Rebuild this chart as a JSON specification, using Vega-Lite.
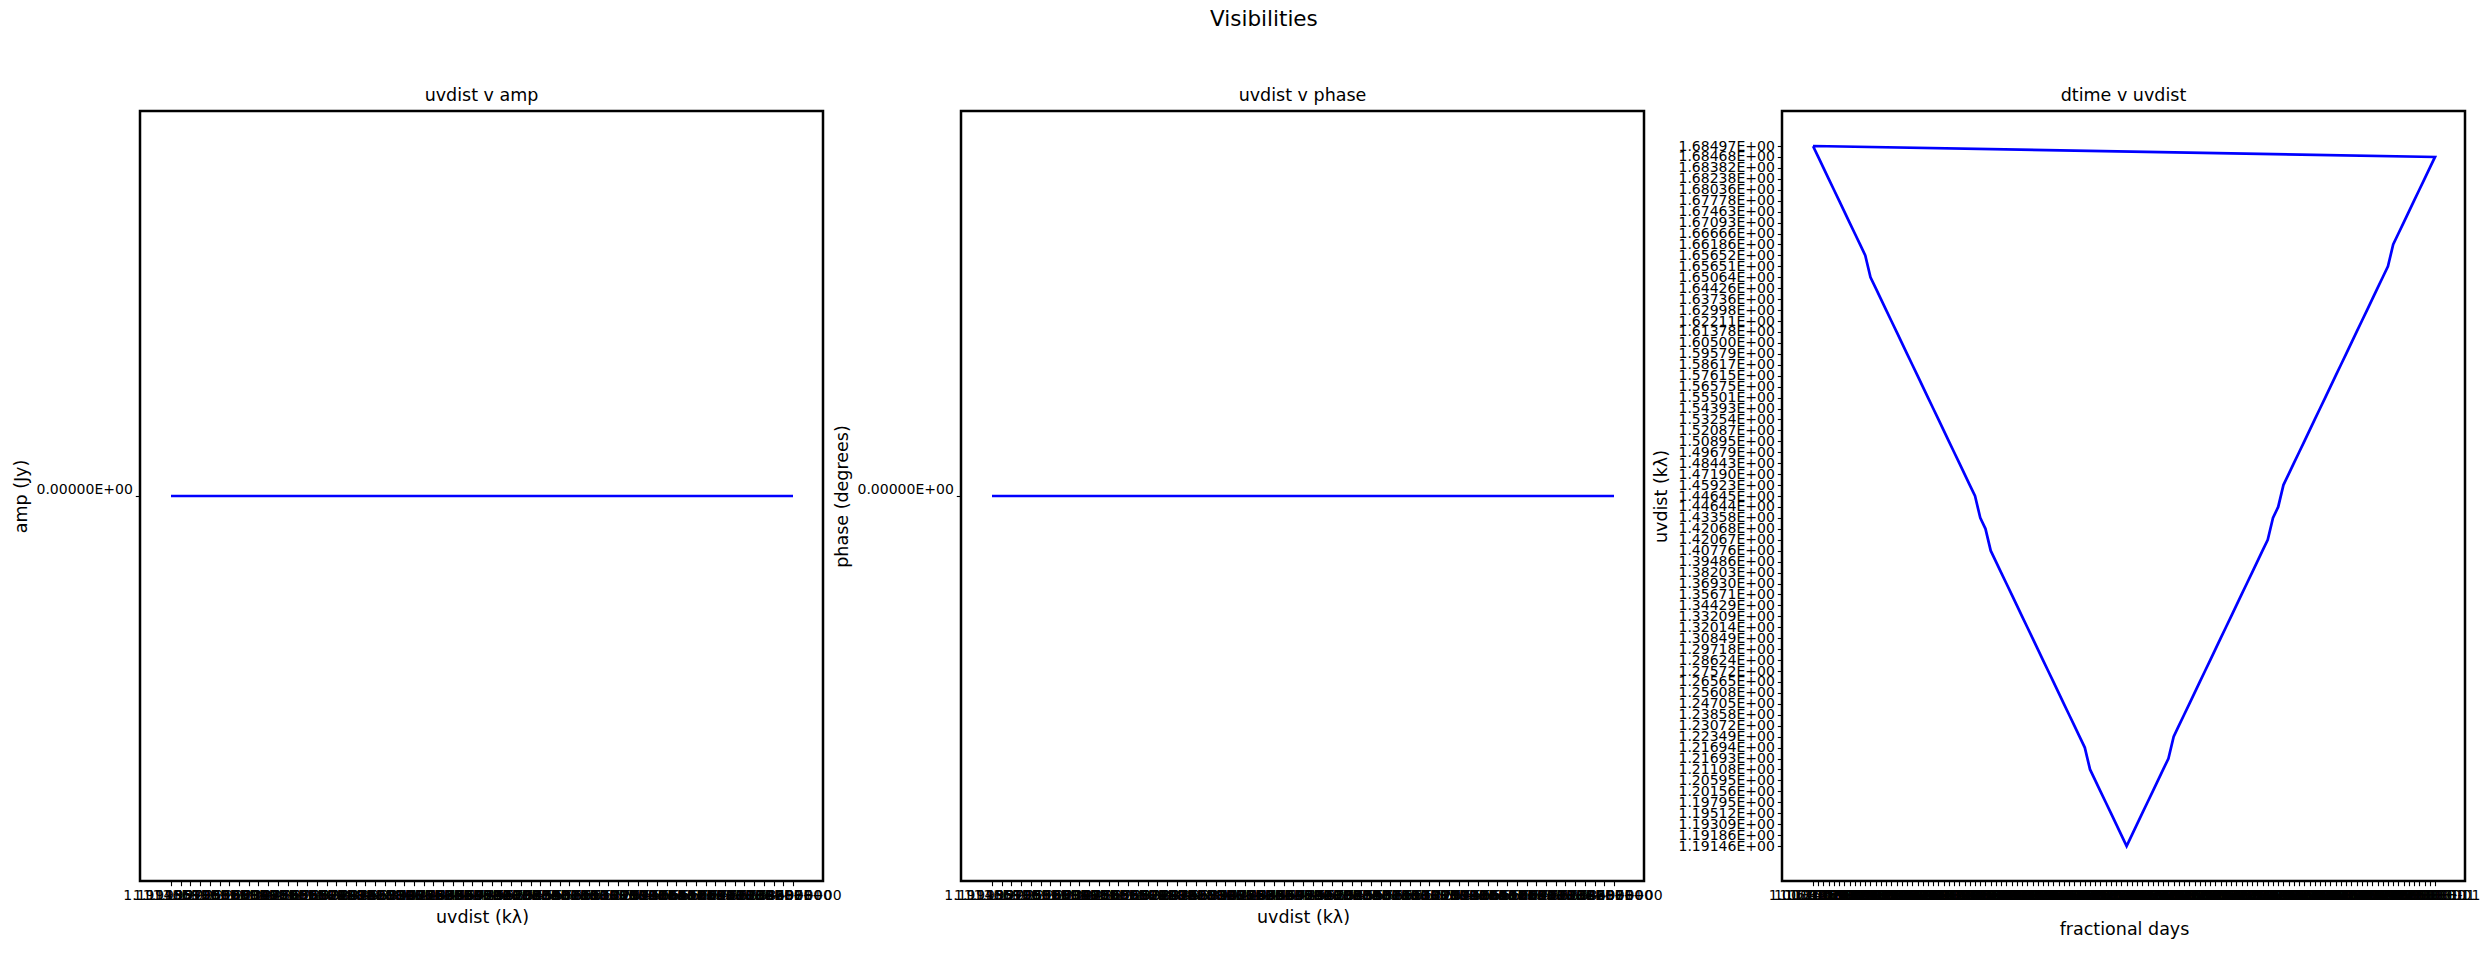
{
"$schema": "https://vega.github.io/schema/vega-lite/v6.json",
"background": "white",
"padding": {"left": 10, "top": 8, "right": 5, "bottom": 5},
"title": {"text": "Visibilities", "fontSize": 21.5, "font": "DejaVu Sans", "fontWeight": "normal", "color": "black", "anchor": "middle", "offset": 55, "dx": 18},
"data": {"values": [
{"s":0,"t":"1.00000E-01","u":"1.68497E+00","a":"0.00000E+00","p":"0.00000E+00"},
{"s":1,"t":"1.06700E-01","u":"1.68468E+00","a":"0.00000E+00","p":"0.00000E+00"},
{"s":2,"t":"1.13400E-01","u":"1.68382E+00","a":"0.00000E+00","p":"0.00000E+00"},
{"s":3,"t":"1.20100E-01","u":"1.68238E+00","a":"0.00000E+00","p":"0.00000E+00"},
{"s":4,"t":"1.26800E-01","u":"1.68036E+00","a":"0.00000E+00","p":"0.00000E+00"},
{"s":5,"t":"1.33500E-01","u":"1.67778E+00","a":"0.00000E+00","p":"0.00000E+00"},
{"s":6,"t":"1.40200E-01","u":"1.67463E+00","a":"0.00000E+00","p":"0.00000E+00"},
{"s":7,"t":"1.46900E-01","u":"1.67093E+00","a":"0.00000E+00","p":"0.00000E+00"},
{"s":8,"t":"1.53600E-01","u":"1.66666E+00","a":"0.00000E+00","p":"0.00000E+00"},
{"s":9,"t":"1.60300E-01","u":"1.66186E+00","a":"0.00000E+00","p":"0.00000E+00"},
{"s":10,"t":"1.67000E-01","u":"1.65652E+00","a":"0.00000E+00","p":"0.00000E+00"},
{"s":11,"t":"1.73700E-01","u":"1.65064E+00","a":"0.00000E+00","p":"0.00000E+00"},
{"s":12,"t":"1.80400E-01","u":"1.64426E+00","a":"0.00000E+00","p":"0.00000E+00"},
{"s":13,"t":"1.87100E-01","u":"1.63736E+00","a":"0.00000E+00","p":"0.00000E+00"},
{"s":14,"t":"1.93800E-01","u":"1.62998E+00","a":"0.00000E+00","p":"0.00000E+00"},
{"s":15,"t":"2.00500E-01","u":"1.62211E+00","a":"0.00000E+00","p":"0.00000E+00"},
{"s":16,"t":"2.07200E-01","u":"1.61378E+00","a":"0.00000E+00","p":"0.00000E+00"},
{"s":17,"t":"2.13900E-01","u":"1.60500E+00","a":"0.00000E+00","p":"0.00000E+00"},
{"s":18,"t":"2.20600E-01","u":"1.59579E+00","a":"0.00000E+00","p":"0.00000E+00"},
{"s":19,"t":"2.27300E-01","u":"1.58617E+00","a":"0.00000E+00","p":"0.00000E+00"},
{"s":20,"t":"2.34000E-01","u":"1.57615E+00","a":"0.00000E+00","p":"0.00000E+00"},
{"s":21,"t":"2.40700E-01","u":"1.56575E+00","a":"0.00000E+00","p":"0.00000E+00"},
{"s":22,"t":"2.47400E-01","u":"1.55501E+00","a":"0.00000E+00","p":"0.00000E+00"},
{"s":23,"t":"2.54100E-01","u":"1.54393E+00","a":"0.00000E+00","p":"0.00000E+00"},
{"s":24,"t":"2.60800E-01","u":"1.53254E+00","a":"0.00000E+00","p":"0.00000E+00"},
{"s":25,"t":"2.67500E-01","u":"1.52087E+00","a":"0.00000E+00","p":"0.00000E+00"},
{"s":26,"t":"2.74200E-01","u":"1.50895E+00","a":"0.00000E+00","p":"0.00000E+00"},
{"s":27,"t":"2.80900E-01","u":"1.49679E+00","a":"0.00000E+00","p":"0.00000E+00"},
{"s":28,"t":"2.87600E-01","u":"1.48443E+00","a":"0.00000E+00","p":"0.00000E+00"},
{"s":29,"t":"2.94300E-01","u":"1.47190E+00","a":"0.00000E+00","p":"0.00000E+00"},
{"s":30,"t":"3.01000E-01","u":"1.45923E+00","a":"0.00000E+00","p":"0.00000E+00"},
{"s":31,"t":"3.07700E-01","u":"1.44645E+00","a":"0.00000E+00","p":"0.00000E+00"},
{"s":32,"t":"3.14400E-01","u":"1.43358E+00","a":"0.00000E+00","p":"0.00000E+00"},
{"s":33,"t":"3.21100E-01","u":"1.42068E+00","a":"0.00000E+00","p":"0.00000E+00"},
{"s":34,"t":"3.27800E-01","u":"1.40776E+00","a":"0.00000E+00","p":"0.00000E+00"},
{"s":35,"t":"3.34500E-01","u":"1.39486E+00","a":"0.00000E+00","p":"0.00000E+00"},
{"s":36,"t":"3.41200E-01","u":"1.38203E+00","a":"0.00000E+00","p":"0.00000E+00"},
{"s":37,"t":"3.47900E-01","u":"1.36930E+00","a":"0.00000E+00","p":"0.00000E+00"},
{"s":38,"t":"3.54600E-01","u":"1.35671E+00","a":"0.00000E+00","p":"0.00000E+00"},
{"s":39,"t":"3.61300E-01","u":"1.34429E+00","a":"0.00000E+00","p":"0.00000E+00"},
{"s":40,"t":"3.68000E-01","u":"1.33209E+00","a":"0.00000E+00","p":"0.00000E+00"},
{"s":41,"t":"3.74700E-01","u":"1.32014E+00","a":"0.00000E+00","p":"0.00000E+00"},
{"s":42,"t":"3.81400E-01","u":"1.30849E+00","a":"0.00000E+00","p":"0.00000E+00"},
{"s":43,"t":"3.88100E-01","u":"1.29718E+00","a":"0.00000E+00","p":"0.00000E+00"},
{"s":44,"t":"3.94800E-01","u":"1.28624E+00","a":"0.00000E+00","p":"0.00000E+00"},
{"s":45,"t":"4.01500E-01","u":"1.27572E+00","a":"0.00000E+00","p":"0.00000E+00"},
{"s":46,"t":"4.08200E-01","u":"1.26565E+00","a":"0.00000E+00","p":"0.00000E+00"},
{"s":47,"t":"4.14900E-01","u":"1.25608E+00","a":"0.00000E+00","p":"0.00000E+00"},
{"s":48,"t":"4.21600E-01","u":"1.24705E+00","a":"0.00000E+00","p":"0.00000E+00"},
{"s":49,"t":"4.28300E-01","u":"1.23858E+00","a":"0.00000E+00","p":"0.00000E+00"},
{"s":50,"t":"4.35000E-01","u":"1.23072E+00","a":"0.00000E+00","p":"0.00000E+00"},
{"s":51,"t":"4.41700E-01","u":"1.22349E+00","a":"0.00000E+00","p":"0.00000E+00"},
{"s":52,"t":"4.48400E-01","u":"1.21694E+00","a":"0.00000E+00","p":"0.00000E+00"},
{"s":53,"t":"4.55100E-01","u":"1.21108E+00","a":"0.00000E+00","p":"0.00000E+00"},
{"s":54,"t":"4.61800E-01","u":"1.20595E+00","a":"0.00000E+00","p":"0.00000E+00"},
{"s":55,"t":"4.68500E-01","u":"1.20156E+00","a":"0.00000E+00","p":"0.00000E+00"},
{"s":56,"t":"4.75200E-01","u":"1.19795E+00","a":"0.00000E+00","p":"0.00000E+00"},
{"s":57,"t":"4.81900E-01","u":"1.19512E+00","a":"0.00000E+00","p":"0.00000E+00"},
{"s":58,"t":"4.88600E-01","u":"1.19309E+00","a":"0.00000E+00","p":"0.00000E+00"},
{"s":59,"t":"4.95300E-01","u":"1.19186E+00","a":"0.00000E+00","p":"0.00000E+00"},
{"s":60,"t":"5.02000E-01","u":"1.19146E+00","a":"0.00000E+00","p":"0.00000E+00"},
{"s":61,"t":"5.08700E-01","u":"1.19186E+00","a":"0.00000E+00","p":"0.00000E+00"},
{"s":62,"t":"5.15400E-01","u":"1.19309E+00","a":"0.00000E+00","p":"0.00000E+00"},
{"s":63,"t":"5.22100E-01","u":"1.19512E+00","a":"0.00000E+00","p":"0.00000E+00"},
{"s":64,"t":"5.28800E-01","u":"1.19795E+00","a":"0.00000E+00","p":"0.00000E+00"},
{"s":65,"t":"5.35500E-01","u":"1.20156E+00","a":"0.00000E+00","p":"0.00000E+00"},
{"s":66,"t":"5.42200E-01","u":"1.20595E+00","a":"0.00000E+00","p":"0.00000E+00"},
{"s":67,"t":"5.48900E-01","u":"1.21108E+00","a":"0.00000E+00","p":"0.00000E+00"},
{"s":68,"t":"5.55600E-01","u":"1.21693E+00","a":"0.00000E+00","p":"0.00000E+00"},
{"s":69,"t":"5.62300E-01","u":"1.22349E+00","a":"0.00000E+00","p":"0.00000E+00"},
{"s":70,"t":"5.69000E-01","u":"1.23072E+00","a":"0.00000E+00","p":"0.00000E+00"},
{"s":71,"t":"5.75700E-01","u":"1.23858E+00","a":"0.00000E+00","p":"0.00000E+00"},
{"s":72,"t":"5.82400E-01","u":"1.24705E+00","a":"0.00000E+00","p":"0.00000E+00"},
{"s":73,"t":"5.89100E-01","u":"1.25608E+00","a":"0.00000E+00","p":"0.00000E+00"},
{"s":74,"t":"5.95800E-01","u":"1.26565E+00","a":"0.00000E+00","p":"0.00000E+00"},
{"s":75,"t":"6.02500E-01","u":"1.27572E+00","a":"0.00000E+00","p":"0.00000E+00"},
{"s":76,"t":"6.09200E-01","u":"1.28624E+00","a":"0.00000E+00","p":"0.00000E+00"},
{"s":77,"t":"6.15900E-01","u":"1.29718E+00","a":"0.00000E+00","p":"0.00000E+00"},
{"s":78,"t":"6.22600E-01","u":"1.30849E+00","a":"0.00000E+00","p":"0.00000E+00"},
{"s":79,"t":"6.29300E-01","u":"1.32014E+00","a":"0.00000E+00","p":"0.00000E+00"},
{"s":80,"t":"6.36000E-01","u":"1.33209E+00","a":"0.00000E+00","p":"0.00000E+00"},
{"s":81,"t":"6.42700E-01","u":"1.34429E+00","a":"0.00000E+00","p":"0.00000E+00"},
{"s":82,"t":"6.49400E-01","u":"1.35671E+00","a":"0.00000E+00","p":"0.00000E+00"},
{"s":83,"t":"6.56100E-01","u":"1.36930E+00","a":"0.00000E+00","p":"0.00000E+00"},
{"s":84,"t":"6.62800E-01","u":"1.38203E+00","a":"0.00000E+00","p":"0.00000E+00"},
{"s":85,"t":"6.69500E-01","u":"1.39486E+00","a":"0.00000E+00","p":"0.00000E+00"},
{"s":86,"t":"6.76200E-01","u":"1.40776E+00","a":"0.00000E+00","p":"0.00000E+00"},
{"s":87,"t":"6.82900E-01","u":"1.42067E+00","a":"0.00000E+00","p":"0.00000E+00"},
{"s":88,"t":"6.89600E-01","u":"1.43358E+00","a":"0.00000E+00","p":"0.00000E+00"},
{"s":89,"t":"6.96300E-01","u":"1.44644E+00","a":"0.00000E+00","p":"0.00000E+00"},
{"s":90,"t":"7.03000E-01","u":"1.45923E+00","a":"0.00000E+00","p":"0.00000E+00"},
{"s":91,"t":"7.09700E-01","u":"1.47190E+00","a":"0.00000E+00","p":"0.00000E+00"},
{"s":92,"t":"7.16400E-01","u":"1.48443E+00","a":"0.00000E+00","p":"0.00000E+00"},
{"s":93,"t":"7.23100E-01","u":"1.49679E+00","a":"0.00000E+00","p":"0.00000E+00"},
{"s":94,"t":"7.29800E-01","u":"1.50895E+00","a":"0.00000E+00","p":"0.00000E+00"},
{"s":95,"t":"7.36500E-01","u":"1.52087E+00","a":"0.00000E+00","p":"0.00000E+00"},
{"s":96,"t":"7.43200E-01","u":"1.53254E+00","a":"0.00000E+00","p":"0.00000E+00"},
{"s":97,"t":"7.49900E-01","u":"1.54393E+00","a":"0.00000E+00","p":"0.00000E+00"},
{"s":98,"t":"7.56600E-01","u":"1.55501E+00","a":"0.00000E+00","p":"0.00000E+00"},
{"s":99,"t":"7.63300E-01","u":"1.56575E+00","a":"0.00000E+00","p":"0.00000E+00"},
{"s":100,"t":"7.70000E-01","u":"1.57615E+00","a":"0.00000E+00","p":"0.00000E+00"},
{"s":101,"t":"7.76700E-01","u":"1.58617E+00","a":"0.00000E+00","p":"0.00000E+00"},
{"s":102,"t":"7.83400E-01","u":"1.59579E+00","a":"0.00000E+00","p":"0.00000E+00"},
{"s":103,"t":"7.90100E-01","u":"1.60500E+00","a":"0.00000E+00","p":"0.00000E+00"},
{"s":104,"t":"7.96800E-01","u":"1.61378E+00","a":"0.00000E+00","p":"0.00000E+00"},
{"s":105,"t":"8.03500E-01","u":"1.62211E+00","a":"0.00000E+00","p":"0.00000E+00"},
{"s":106,"t":"8.10200E-01","u":"1.62998E+00","a":"0.00000E+00","p":"0.00000E+00"},
{"s":107,"t":"8.16900E-01","u":"1.63736E+00","a":"0.00000E+00","p":"0.00000E+00"},
{"s":108,"t":"8.23600E-01","u":"1.64426E+00","a":"0.00000E+00","p":"0.00000E+00"},
{"s":109,"t":"8.30300E-01","u":"1.65064E+00","a":"0.00000E+00","p":"0.00000E+00"},
{"s":110,"t":"8.37000E-01","u":"1.65651E+00","a":"0.00000E+00","p":"0.00000E+00"},
{"s":111,"t":"8.43700E-01","u":"1.66186E+00","a":"0.00000E+00","p":"0.00000E+00"},
{"s":112,"t":"8.50400E-01","u":"1.66666E+00","a":"0.00000E+00","p":"0.00000E+00"},
{"s":113,"t":"8.57100E-01","u":"1.67093E+00","a":"0.00000E+00","p":"0.00000E+00"},
{"s":114,"t":"8.63800E-01","u":"1.67463E+00","a":"0.00000E+00","p":"0.00000E+00"},
{"s":115,"t":"8.70500E-01","u":"1.67778E+00","a":"0.00000E+00","p":"0.00000E+00"},
{"s":116,"t":"8.77200E-01","u":"1.68036E+00","a":"0.00000E+00","p":"0.00000E+00"},
{"s":117,"t":"8.83900E-01","u":"1.68238E+00","a":"0.00000E+00","p":"0.00000E+00"},
{"s":118,"t":"8.90600E-01","u":"1.68382E+00","a":"0.00000E+00","p":"0.00000E+00"},
{"s":119,"t":"8.97300E-01","u":"1.68468E+00","a":"0.00000E+00","p":"0.00000E+00"},
{"s":120,"t":"1.00000E-01","u":"1.68497E+00","a":"0.00000E+00","p":"0.00000E+00"}
]},
"spacing": 138,
"bounds": "flush",
"hconcat": [
{
 "width": 683, "height": 770,
 "title": "uvdist v amp",
 "mark": {"type": "line", "color": "#0000ff", "strokeWidth": 2.7},
 "encoding": {
  "x": {"field": "u", "type": "nominal", "sort": "ascending", "scale": {"type": "point", "padding": 0, "range": [31, 653]}, "axis": {"title": "uvdist (kλ)", "labelAngle": 0, "titlePadding": 6}},
  "y": {"field": "a", "type": "nominal", "scale": {"type": "point"}, "axis": {"title": "amp (Jy)", "labelOffset": -7, "titlePadding": 6}},
  "order": {"field": "s", "type": "quantitative"}
 }
},
{
 "width": 683, "height": 770,
 "title": "uvdist v phase",
 "mark": {"type": "line", "color": "#0000ff", "strokeWidth": 2.7},
 "encoding": {
  "x": {"field": "u", "type": "nominal", "sort": "ascending", "scale": {"type": "point", "padding": 0, "range": [31, 653]}, "axis": {"title": "uvdist (kλ)", "labelAngle": 0, "titlePadding": 6}},
  "y": {"field": "p", "type": "nominal", "scale": {"type": "point"}, "axis": {"title": "phase (degrees)", "labelOffset": -7, "titlePadding": 6}},
  "order": {"field": "s", "type": "quantitative"}
 }
},
{
 "width": 683, "height": 770,
 "title": "dtime v uvdist",
 "mark": {"type": "line", "color": "#0000ff", "strokeWidth": 2.7},
 "encoding": {
  "x": {"field": "t", "type": "nominal", "sort": "ascending", "scale": {"type": "point", "padding": 0, "range": [31, 653]}, "axis": {"title": "fractional days", "labelAngle": 0, "titlePadding": 18}},
  "y": {"field": "u", "type": "nominal", "sort": "descending", "scale": {"type": "point", "padding": 0, "range": [35, 735]}, "axis": {"title": "uvdist (kλ)", "titlePadding": 8}},
  "order": {"field": "s", "type": "quantitative"}
 }
}
],
"config": {
 "view": {"stroke": "black", "strokeWidth": 2.5},
 "axis": {"domain": false, "grid": false, "tickColor": "black", "tickSize": 4.7, "tickWidth": 1.1, "labelFont": "DejaVu Sans", "labelFontSize": 14, "labelColor": "black", "labelPadding": 3, "titleFont": "DejaVu Sans", "titleFontSize": 17.5, "titleFontWeight": "normal", "titleColor": "black"},
 "title": {"font": "DejaVu Sans", "fontSize": 17.5, "fontWeight": "normal", "color": "black", "offset": 7}
}
}
